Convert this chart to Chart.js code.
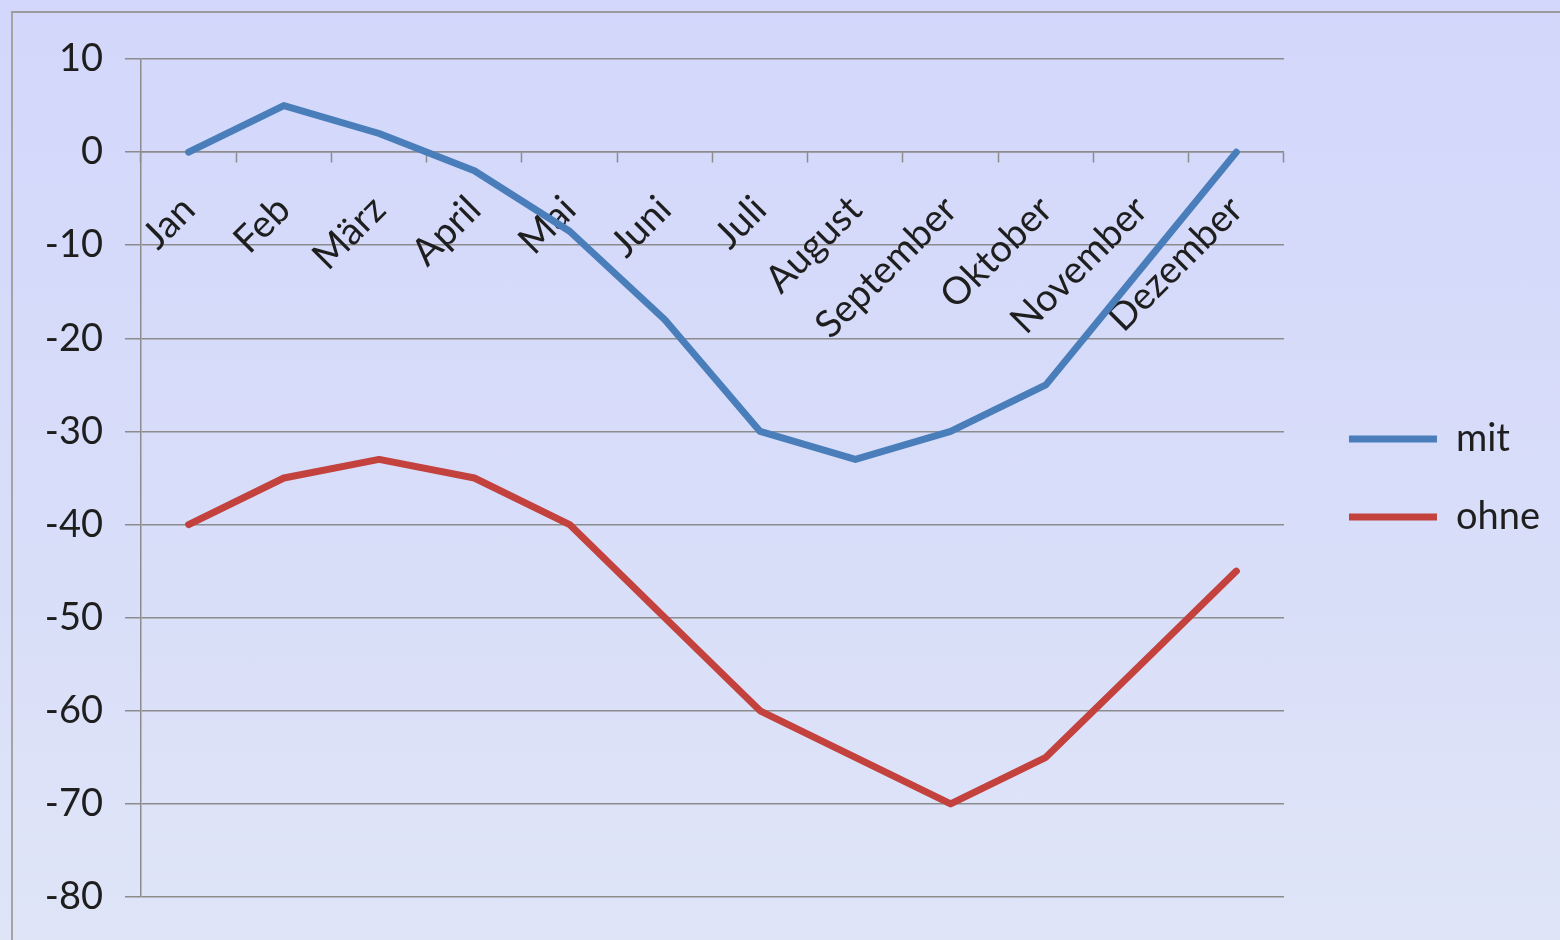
<!DOCTYPE html>
<html>
<head>
<meta charset="utf-8">
<script src="https://cdn.jsdelivr.net/npm/chart.js@4.4.1/dist/chart.umd.min.js"></script>
<style>
  body { margin: 0; }
  #wrap {
    position: relative; width: 1560px; height: 940px; overflow: hidden;
    background: linear-gradient(180deg, #d3d7fb 0%, #d8ddf9 55%, #dfe5f7 100%);
  }
  #frame {
    position: absolute; left: 11px; top: 11px; right: 0; bottom: 0;
    border-top: 2px solid #9c9c9c; border-left: 2px solid #a4a4a4;
  }
  #chart { position: absolute; left: 0; top: 0; }
</style>
</head>
<body>
<div id="wrap">
  <div id="frame"></div>
  <canvas id="chart" width="1560" height="940"></canvas>
</div>
<script>
// Monate (Kategorien)
const monate = ['Jan', 'Feb', 'März', 'April', 'Mai', 'Juni', 'Juli',
  'August', 'September', 'Oktober', 'November', 'Dezember'];
// Werte
const mit = [0, 5, 2, -2, -8.5, -18, -30, -33, -30, -25, -12.5, 0];
const ohne = [-40, -35, -33, -35, -40, -50, -60, -65, -70, -65, -55, -45];
const yMin = -80, yMax = 10, yStep = 10;

const gridColor = '#8c8c8c';
const textColor = '#1e1e1e';
const font = { family: 'Lato', size: 38 };

let canva = document.getElementById('chart').getContext('2d');

new Chart(canva, {
  type: 'line',
  data: {
    labels: monate,
    datasets: [{
      label: 'mit',
      data: mit,
      borderColor: '#4a7ebb',
      backgroundColor: '#4a7ebb',
      borderWidth: 7,
      borderJoinStyle: 'round',
      borderCapStyle: 'round',
      pointRadius: 0,
      tension: 0
    }, {
      label: 'ohne',
      data: ohne,
      borderColor: '#c4423d',
      backgroundColor: '#c4423d',
      borderWidth: 7,
      borderJoinStyle: 'round',
      borderCapStyle: 'round',
      pointRadius: 0,
      tension: 0
    }]
  },
  options: {
    responsive: false,
    animation: false,
    layout: {
      padding: { top: 59, bottom: 43, left: 0, right: 10 }
    },
    plugins: {
      tooltip: { enabled: false },
      legend: {
        position: 'right',
        labels: {
          usePointStyle: true,
          pointStyle: 'line',
          pointStyleWidth: 88,
          padding: 40,
          color: textColor,
          font: font
        }
      }
    },
    scales: {
      x: {
        type: 'category',
        position: { y: 0 },
        offset: true,
        afterFit: function (s) { s.paddingBottom = 0; s.paddingTop = 0; },
        grid: {
          offset: true,
          drawOnChartArea: false,
          drawTicks: true,
          tickLength: 10,
          tickColor: gridColor,
          tickWidth: 1.5
        },
        border: { color: gridColor, width: 1.5 },
        ticks: {
          color: textColor,
          font: font,
          minRotation: 45,
          maxRotation: 45,
          autoSkip: false,
          padding: 25
        }
      },
      y: {
        min: yMin,
        max: yMax,
        afterFit: function (s) { s.width = 141; s.paddingBottom = 0; s.paddingTop = 0; },
        grid: {
          color: gridColor,
          lineWidth: 1.5,
          tickLength: 16,
          tickColor: gridColor
        },
        border: { color: gridColor, width: 1.5 },
        ticks: {
          stepSize: yStep,
          color: textColor,
          font: font,
          padding: 22
        }
      },
      // leere Achse rechts, nur als Abstand zur Legende
      abstand: {
        type: 'linear',
        position: 'right',
        afterFit: function (s) { s.width = 25; s.paddingBottom = 0; s.paddingTop = 0; },
        grid: { display: false },
        border: { display: false },
        ticks: { display: false }
      }
    }
  }
});
</script>
</body>
</html>
